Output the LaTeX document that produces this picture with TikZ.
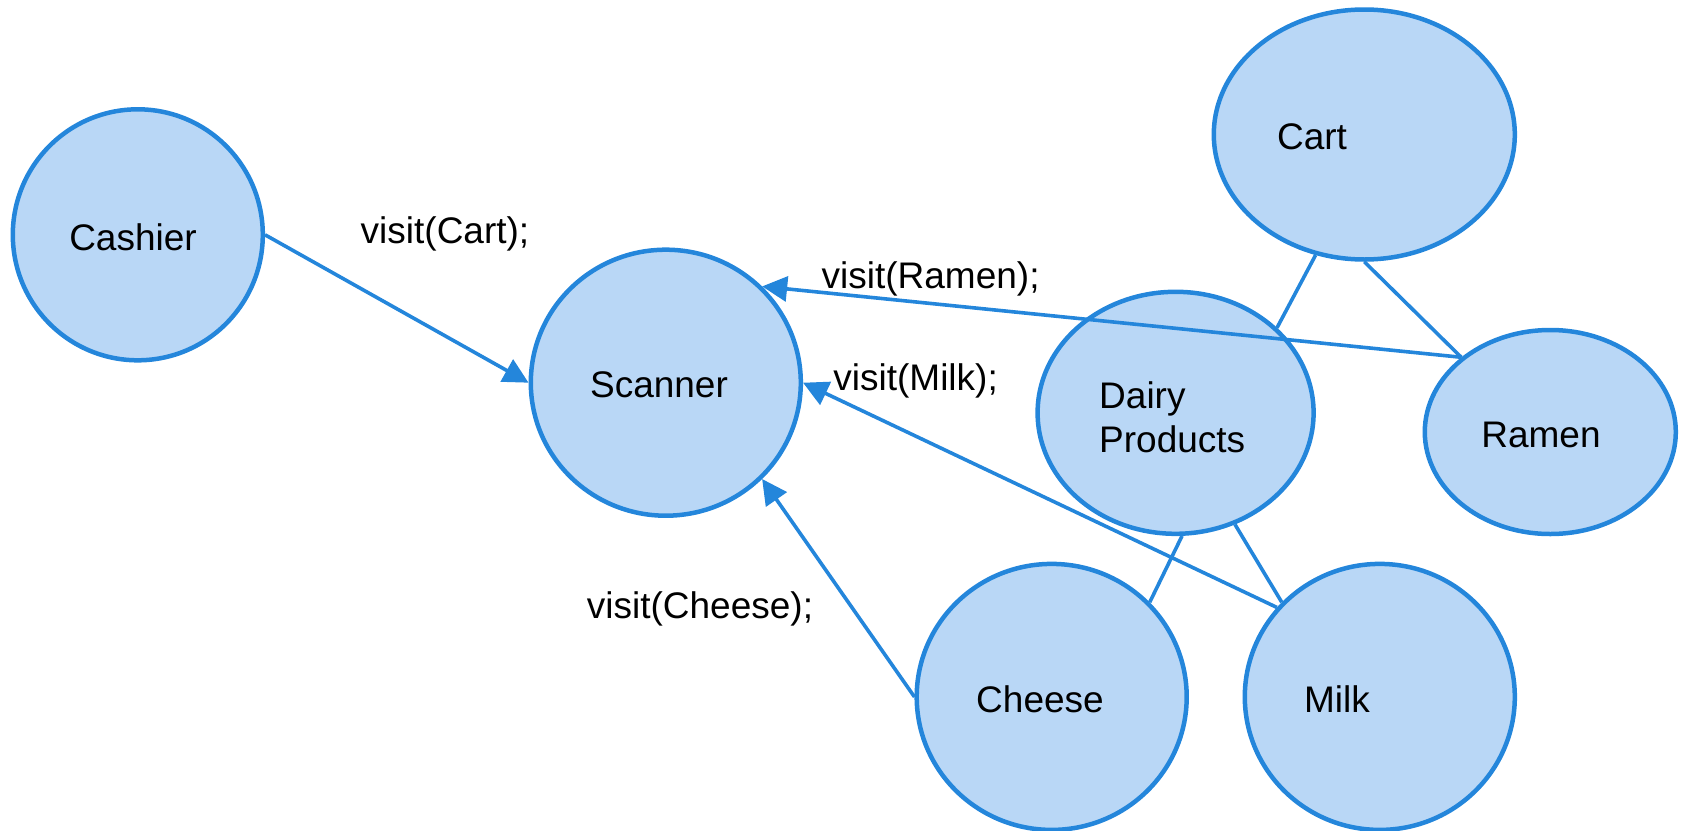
\documentclass[tikz,border=0pt]{standalone}
\usepackage{fontspec}
\setmainfont{Liberation Sans}
\usetikzlibrary{shapes.geometric,arrows.meta}

\definecolor{edgeblue}{HTML}{2486DB}
\definecolor{fillblue}{HTML}{B9D7F6}

\tikzset{
  blob/.style={ellipse, draw=edgeblue, fill=fillblue, line width=4.5pt, inner sep=0pt},
  lbl/.style={font=\fontsize{37}{44}\selectfont, inner sep=0pt, text=black},
  link/.style={draw=edgeblue, line width=3.6pt},
  call/.style={link, -{Triangle[length=25pt,width=25pt]}},
}

\begin{document}
\begin{tikzpicture}[x=1pt, y=-1pt]
  \useasboundingbox (0,0) rectangle (1681,830);

  % objects
  \node[blob, minimum width=250pt, minimum height=251pt] (cashier) at (137.8,234.8) {};
  \node[blob, minimum width=270pt, minimum height=266pt] (scanner) at (665.8,382.7) {};
  \node[blob, minimum width=301pt, minimum height=250pt] (cart)    at (1364.3,134.5) {};
  \node[blob, minimum width=276pt, minimum height=242pt] (dairy)   at (1175.6,412.8) {};
  \node[blob, minimum width=251pt, minimum height=204pt] (ramen)   at (1550.3,432) {};
  \node[blob, minimum width=270pt, minimum height=266pt] (cheese)  at (1051.7,696.9) {};
  \node[blob, minimum width=270pt, minimum height=266pt] (milk)    at (1379.8,696.9) {};

  % object names
  \node[lbl] (tcashier) at (133,237) {Cashier};
  \node[lbl] (tscanner) at (659,385) {Scanner};
  \node[lbl] (tcart)    at (1312,137) {Cart};
  \node[lbl, align=left, anchor=west] (tdairy) at (1099,417) {Dairy\\Products};
  \node[lbl] (tramen)   at (1541,435) {Ramen};
  \node[lbl] (tcheese)  at (1040,699) {Cheese};
  \node[lbl] (tmilk)    at (1337,699) {Milk};

  % composition links
  \draw[link] (cart.248) -- (dairy.40);
  \draw[link] (cart.south) -- (ramen.140);
  \draw[link] (dairy.-87) -- (cheese.44);
  \draw[link] (dairy.-62) -- (milk.136);

  % visit calls
  \draw[call] (cashier.east) -- (scanner.west);
  \draw[call] (ramen.140) -- (scanner.45);
  \draw[call] (milk.139) -- (scanner.east);
  \draw[call] (cheese.west) -- (scanner.-45);

  % call labels
  \node[lbl] (lcart)   at (445,234) {visit(Cart);};
  \node[lbl] (lramen)  at (930.6,279) {visit(Ramen);};
  \node[lbl] (lmilk)   at (915.6,381) {visit(Milk);};
  \node[lbl] (lcheese) at (700,609) {visit(Cheese);};
\end{tikzpicture}
\end{document}
